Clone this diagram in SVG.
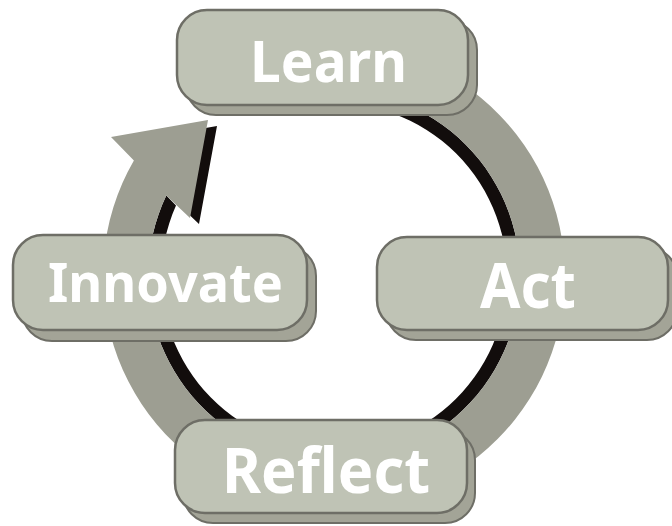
<svg xmlns="http://www.w3.org/2000/svg" width="672" height="526" viewBox="0 0 672 526">
  <style>
    .side { fill: #a3a497; stroke: #6e6e66; stroke-width: 2; }
    .face { fill: #bfc3b5; stroke: #6e6e66; stroke-width: 2.5; }
    .lbl { font-family: "Noto Sans", "DejaVu Sans", sans-serif; font-weight: bold; fill: #ffffff; text-anchor: middle; }
    .ring { fill: #9d9e92; }
    .band { fill: #120d0c; }
  </style>
  <rect width="672" height="526" fill="#ffffff"/>
  <g id="connectors">
    <polygon class="band" points="142.9,166.5 120,143 217,126 199,224 175.3,201.6"/>
    <path class="band" d="M317.8,90.7 A186,186 0 1 1 166.3,195.6 L176.0,205.6 A173,173 0 1 0 318.9,103.7 Z"/>
    <path class="ring" d="M313.9,45.9 A231,231 0 1 1 133.9,160.5 L111,137 L208,120 L190,218 L166.3,195.6 A186,186 0 1 0 317.8,90.7 Z"/>
  </g>
  <g id="learn">
    <rect class="side" x="186" y="20" width="291" height="95" rx="30"/>
    <rect class="face" x="177" y="10" width="291" height="95" rx="30"/>
    <text class="lbl" x="328.5" y="82" font-size="58" textLength="157" lengthAdjust="spacingAndGlyphs">Learn</text>
  </g>
  <g id="act">
    <rect class="side" x="386" y="247" width="291" height="93" rx="30"/>
    <rect class="face" x="377" y="237" width="291" height="93" rx="30"/>
    <text class="lbl" x="528" y="308" font-size="62" textLength="96" lengthAdjust="spacingAndGlyphs">Act</text>
  </g>
  <g id="innovate">
    <rect class="side" x="22" y="246" width="294" height="95" rx="30"/>
    <rect class="face" x="13" y="235" width="294" height="95" rx="30"/>
    <text class="lbl" x="165.5" y="302" font-size="54" textLength="235" lengthAdjust="spacingAndGlyphs">Innovate</text>
  </g>
  <g id="reflect">
    <rect class="side" x="183" y="430" width="292" height="93" rx="30"/>
    <rect class="face" x="175" y="420" width="292" height="93" rx="30"/>
    <text class="lbl" x="326" y="493" font-size="62" textLength="208" lengthAdjust="spacingAndGlyphs">Reflect</text>
  </g>
</svg>
